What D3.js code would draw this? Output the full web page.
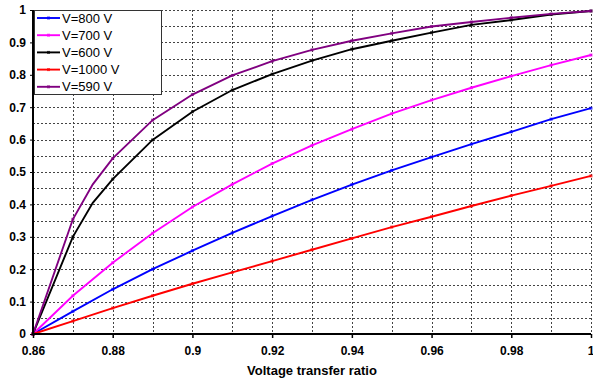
<!DOCTYPE html>
<html>
<head>
<meta charset="utf-8">
<script src="https://cdn.jsdelivr.net/npm/d3@7"></script>
<style>
  body { margin: 0; background: #fff; }
  svg { display: block; font-family: "Liberation Sans", Arial, sans-serif; }
</style>
</head>
<body>
<div id="chart"></div>
<script>
// x values (voltage transfer ratio)
var ratios = [0.86, 0.87, 0.88, 0.89, 0.90, 0.91, 0.92, 0.93, 0.94, 0.95, 0.96, 0.97, 0.98, 0.99, 1.00];
// the two steep curves have one extra point between 0.87 and 0.88
var ratiosFine = [0.86, 0.87, 0.875, 0.88, 0.89, 0.90, 0.91, 0.92, 0.93, 0.94, 0.95, 0.96, 0.97, 0.98, 0.99, 1.00];

var v800  = [0, 0.07, 0.138, 0.20, 0.257, 0.312, 0.364, 0.414, 0.461, 0.505, 0.546, 0.586, 0.624, 0.663, 0.697];
var v700  = [0, 0.118, 0.22, 0.311, 0.392, 0.462, 0.526, 0.582, 0.632, 0.68, 0.722, 0.76, 0.796, 0.83, 0.861];
var v600  = [0, 0.30, 0.405, 0.478, 0.599, 0.686, 0.753, 0.802, 0.844, 0.879, 0.905, 0.930, 0.954, 0.969, 0.986, 0.997];
var v1000 = [0, 0.04, 0.08, 0.118, 0.155, 0.19, 0.225, 0.26, 0.295, 0.33, 0.362, 0.395, 0.427, 0.457, 0.488];
var v590  = [0, 0.354, 0.462, 0.542, 0.66, 0.739, 0.798, 0.842, 0.877, 0.905, 0.928, 0.949, 0.963, 0.976, 0.988, 0.997];

var seriesNames = ["V=800 V", "V=700 V", "V=600 V", "V=1000 V", "V=590 V"];
var seriesColors = ["#0000ff", "#ff00ff", "#000000", "#ff0000", "#800080"];
var seriesX = [ratios, ratios, ratiosFine, ratios, ratiosFine];
var seriesY = [v800, v700, v600, v1000, v590];

var xTicks = [0.86, 0.88, 0.90, 0.92, 0.94, 0.96, 0.98, 1.00];
var yTicks = [0, 0.1, 0.2, 0.3, 0.4, 0.5, 0.6, 0.7, 0.8, 0.9, 1];
var xTitle = "Voltage transfer ratio";

var width = 593, height = 385;
var margin = {left: 33, right: 2, top: 10, bottom: 51};

var svg = d3.select("#chart").append("svg")
  .attr("width", width)
  .attr("height", height);

var x = d3.scaleLinear().domain([0.86, 1]).range([margin.left, width - margin.right]);
var y = d3.scaleLinear().domain([0, 1]).range([height - margin.bottom, margin.top]);

// grid lines, dotted
var grid = svg.append("g").attr("stroke", "#444").attr("stroke-width", 1).attr("stroke-dasharray", "2,2");
grid.selectAll("line.v")
  .data(d3.range(1, 15).map(function(i) { return 0.86 + i * 0.01; }))
  .enter().append("line")
  .attr("x1", function(d) { return Math.round(x(d)) + 0.5; })
  .attr("x2", function(d) { return Math.round(x(d)) + 0.5; })
  .attr("y1", y(1)).attr("y2", y(0));
grid.selectAll("line.h")
  .data(d3.range(1, 21).map(function(i) { return i * 0.05; }))
  .enter().append("line")
  .attr("y1", function(d) { return Math.round(y(d)) + 0.5; })
  .attr("y2", function(d) { return Math.round(y(d)) + 0.5; })
  .attr("x1", x(0.86)).attr("x2", x(1));

// series
var line = d3.line()
  .x(function(d) { return x(d[0]); })
  .y(function(d) { return y(d[1]); });

seriesNames.forEach(function(name, i)
  {
  var pts = seriesX[i].map(function(v, j) { return [v, seriesY[i][j]]; });
  var g = svg.append("g");
  g.append("path")
    .datum(pts)
    .attr("d", line)
    .attr("fill", "none")
    .attr("stroke", seriesColors[i])
    .attr("stroke-width", 1.9);
  g.selectAll("rect")
    .data(pts.filter(function(d) { return Math.abs(d[0] * 100 - Math.round(d[0] * 100)) < 1e-6; }))
    .enter().append("rect")
    .attr("x", function(d) { return x(d[0]) - 1.5; })
    .attr("y", function(d) { return y(d[1]) - 1.5; })
    .attr("width", 3).attr("height", 3)
    .attr("fill", seriesColors[i])
    .attr("opacity", 0.7);
  });

// axes
var xAxis = svg.append("g")
  .attr("transform", "translate(0," + y(0) + ")")
  .call(d3.axisBottom(x).tickValues(xTicks).tickSize(4).tickPadding(8)
    .tickFormat(function(d) { return d === 1 ? "1" : d3.format(".2~f")(d); }));
xAxis.select(".domain").attr("stroke-width", 2).attr("d", "M" + x(0.86) + ",0H" + x(1));
xAxis.selectAll(".tick line").attr("stroke-width", 1.5);
xAxis.selectAll("text").attr("font-size", 12).attr("font-weight", "bold").attr("fill", "#000");
// keep the last label inside the window
xAxis.selectAll("text").filter(function(d) { return d === 1; }).attr("text-anchor", "end").attr("dx", 3);

var yAxis = svg.append("g")
  .attr("transform", "translate(" + x(0.86) + ",0)")
  .call(d3.axisLeft(y).tickValues(yTicks).tickSize(3).tickPadding(4)
    .tickFormat(function(d) { return d3.format(".1~f")(d); }));
yAxis.select(".domain").attr("stroke-width", 2).attr("d", "M0," + y(0) + "V" + y(1));
yAxis.selectAll("text").attr("font-size", 12).attr("font-weight", "bold").attr("fill", "#000");

// x title
svg.append("text")
  .attr("x", 312)
  .attr("y", 375)
  .attr("text-anchor", "middle")
  .attr("font-size", 13)
  .attr("font-weight", "bold")
  .text(xTitle);

// legend
var legend = svg.append("g");
legend.append("rect")
  .attr("x", 34.5).attr("y", 10.5)
  .attr("width", 127).attr("height", 84)
  .attr("fill", "#fff")
  .attr("stroke", "#333")
  .attr("stroke-width", 1);
seriesNames.forEach(function(name, i)
  {
  var ly = 18 + i * 17.2;
  legend.append("line")
    .attr("x1", 37).attr("x2", 60)
    .attr("y1", ly).attr("y2", ly)
    .attr("stroke", seriesColors[i]).attr("stroke-width", 1.9);
  legend.append("rect")
    .attr("x", 47).attr("y", ly - 1.5).attr("width", 3).attr("height", 3)
    .attr("fill", seriesColors[i]).attr("opacity", 0.7);
  legend.append("text")
    .attr("x", 62).attr("y", ly + 4.5)
    .attr("font-size", 13)
    .text(name);
  });
</script>
</body>
</html>
